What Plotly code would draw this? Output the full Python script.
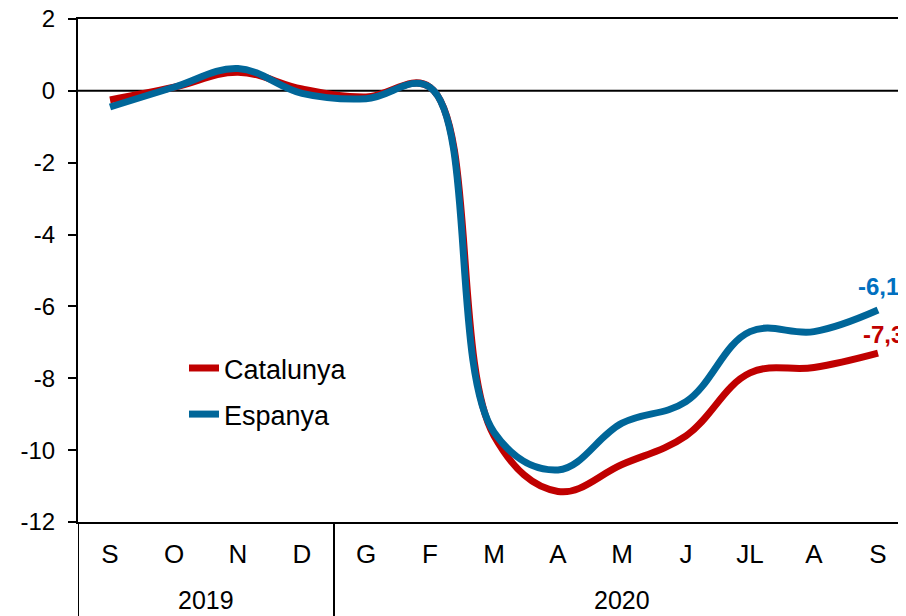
import plotly.graph_objects as go

months = ["S", "O", "N", "D", "G", "F", "M", "A", "M", "J", "JL", "A", "S"]
years = ["2019", "2020"]
catalunya = [-0.25, 0.1, 0.52, 0.05, -0.17, 0.1, -9.6, -11.15, -10.4, -9.6, -7.85, -7.7, -7.3]
espanya = [-0.45, 0.1, 0.62, -0.07, -0.22, 0.1, -9.5, -10.55, -9.25, -8.65, -6.7, -6.7, -6.1]
last_labels = ["-7,3", "-6,1"]
y_ticks = [2, 0, -2, -4, -6, -8, -10, -12]
y_tick_text = ["2", "0", "-2", "-4", "-6", "-8", "-10", "-12"]

RED = "#C00000"
BLUE = "#006699"
FONT = "Arial, Liberation Sans, sans-serif"

x = list(range(len(months)))

fig = go.Figure()
fig.add_trace(go.Scatter(x=x, y=catalunya, mode="lines", name="Catalunya",
                         legendgroup="a",
                         line=dict(color=RED, width=7, shape="spline", smoothing=1.1)))
fig.add_trace(go.Scatter(x=x, y=espanya, mode="lines", name="Espanya",
                         legendgroup="b",
                         line=dict(color=BLUE, width=7, shape="spline", smoothing=1.1)))

# end labels
fig.add_annotation(x=x[-1], y=espanya[-1], text="<b>" + last_labels[1] + "</b>",
                   showarrow=False, xanchor="left", yanchor="middle",
                   xshift=-22, yshift=24, font=dict(family=FONT, size=24, color="#0070C0"))
fig.add_annotation(x=x[-1], y=catalunya[-1], text="<b>" + last_labels[0] + "</b>",
                   showarrow=False, xanchor="left", yanchor="middle",
                   xshift=-17, yshift=19, font=dict(family=FONT, size=24, color=RED))

# year labels
yl = -0.155
fig.add_annotation(x=1.5, y=yl, xref="x", yref="paper", text=years[0], showarrow=False,
                   font=dict(family=FONT, size=25, color="black"), yanchor="middle")
fig.add_annotation(x=8.0, y=yl, xref="x", yref="paper", text=years[1], showarrow=False,
                   font=dict(family=FONT, size=25, color="black"), yanchor="middle")

# separators under the axis
for xs in [-0.5, 3.5]:
    fig.add_shape(type="line", xref="x", yref="paper", x0=xs, x1=xs, y0=0, y1=-0.2,
                  line=dict(color="black", width=2))

# zero line
fig.add_shape(type="line", xref="paper", yref="y", x0=0, x1=1, y0=0, y1=0,
              line=dict(color="black", width=2), layer="below")

fig.update_layout(
    width=898, height=608,
    margin=dict(l=70, r=0, t=11, b=94, autoexpand=False),
    paper_bgcolor="white", plot_bgcolor="white",
    font=dict(family=FONT, size=24, color="black"),
    showlegend=True,
    legend=dict(x=0.128, y=0.354, xanchor="left", yanchor="top",
                bgcolor="rgba(0,0,0,0)", font=dict(size=27), tracegroupgap=8),
    xaxis=dict(range=[-0.5, 12.4375], tickmode="array", tickvals=x, ticktext=months,
               showgrid=False, zeroline=False, showline=True, linecolor="black",
               linewidth=2, mirror=True, ticks="", ticklabelstandoff=8,
               tickfont=dict(size=26), automargin=False),
    yaxis=dict(range=[-12, 2], tickmode="array", tickvals=y_ticks, ticktext=y_tick_text,
               showgrid=False, zeroline=False,
               showline=True, linecolor="black", linewidth=2, ticks="outside",
               ticklen=8, tickwidth=2, tickcolor="black", tickfont=dict(size=24),
               ticklabelstandoff=8, ticklabeloverflow="allow", automargin=False),
)

fig.write_html("out.html")
